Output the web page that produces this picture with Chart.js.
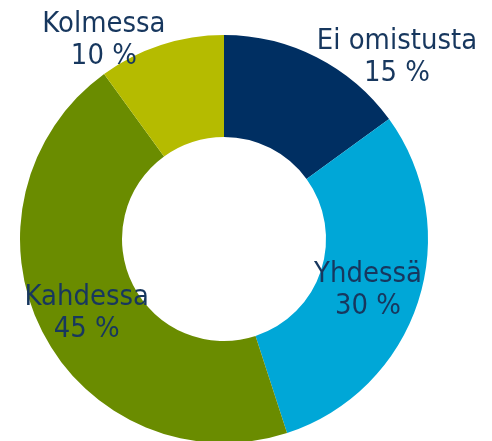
<!DOCTYPE html>
<html>
<head>
<meta charset="utf-8">
<script src="https://cdn.jsdelivr.net/npm/chart.js@4/dist/chart.umd.min.js"></script>
<style>
    html, body { margin: 0; padding: 0; background: #fff; overflow: hidden; }
    #wrap { width: 492px; height: 443px; position: relative; }
</style>
</head>
<body>
<div id="wrap"><canvas id="chart"></canvas></div>
<script>
// Omistusmuodot
const categories = ['Ei omistusta', 'Yhdessä', 'Kahdessa', 'Kolmessa'];
const shares = [15, 30, 45, 10];
const sliceColors = ['#002F62', '#00A7D7', '#6A8C00', '#B5BB00'];

// Tekstien sijainti: kulma (astetta, 0 = oikealle) ja etäisyys keskipisteestä suhteessa säteeseen
const labelSpots = [
    { angle: -45.2, dist: 1.203 },
    { angle: 22.3, dist: 0.763 },
    { angle: 149.3, dist: 0.783 },
    { angle: -122.1, dist: 1.108 }
];

function drawLine(ctx, text, x, y) {
    // fontti hieman venytetty pystysuunnassa
    ctx.save();
    ctx.translate(x, y);
    ctx.scale(1, 1.1);
    ctx.fillText(text, 0, 0);
    ctx.restore();
}

const labelPlugin = {
    id: 'sliceLabels',
    afterDatasetsDraw(chart) {
        const ctx = chart.ctx;
        const meta = chart.getDatasetMeta(0);
        ctx.save();
        ctx.font = '26px "DejaVu Sans", Verdana, sans-serif';
        ctx.fillStyle = '#17375E';
        ctx.textAlign = 'center';
        ctx.textBaseline = 'alphabetic';
        meta.data.forEach((arc, i) => {
            const spot = labelSpots[i];
            const a = spot.angle * Math.PI / 180;
            const cx = arc.x + Math.cos(a) * arc.outerRadius * spot.dist;
            const cy = arc.y + Math.sin(a) * arc.outerRadius * spot.dist;
            drawLine(ctx, categories[i], cx, cy - 16);
            drawLine(ctx, shares[i] + ' %', cx, cy + 16);
        });
        ctx.restore();
    }
};

new Chart(document.getElementById('chart'), {
    type: 'doughnut',
    data: {
        labels: categories,
        datasets: [{
            data: shares,
            backgroundColor: sliceColors,
            borderWidth: 0
        }]
    },
    options: {
        responsive: true,
        maintainAspectRatio: false,
        animation: false,
        cutout: '50%',
        layout: {
            padding: { left: 20, right: 64, top: 35, bottom: 0 }
        },
        plugins: {
            legend: { display: false },
            tooltip: { enabled: false }
        }
    },
    plugins: [labelPlugin]
});
</script>
</body>
</html>
